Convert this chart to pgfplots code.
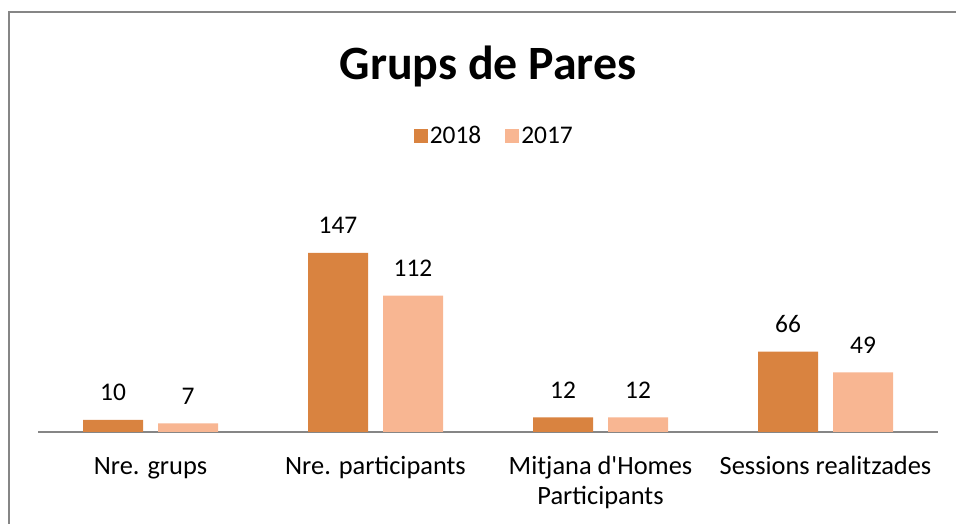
\documentclass[border=0pt]{standalone}
\usepackage{pgfplots}
\pgfplotsset{compat=1.18}
\usepackage{fontspec}
\setmainfont{Carlito}
\definecolor{darkor}{RGB}{217,131,64}
\definecolor{lightor}{RGB}{248,182,146}
\definecolor{frame}{RGB}{134,134,134}
\begin{document}
\begin{tikzpicture}[x=1bp,y=1bp]
\useasboundingbox (0,0) rectangle (956,524);
\draw[frame, line width=2bp] (9,0) -- (9,512) -- (956,512);
\node[font=\fontsize{48}{56}\selectfont\bfseries, anchor=base] at (488,444) {Grups de Pares};
\begin{axis}[
  at={(38bp,92bp)}, anchor=south west,
  scale only axis, width=900bp, height=243.6bp,
  xmin=-0.5, xmax=3.5, ymin=0, ymax=200,
  axis x line=bottom, axis y line=none,
  axis line style={-, draw=frame, line width=1.5bp},
  ytick=\empty,
  xtick={0,1,2,3},
  xticklabels={\vphantom{d}Nre. grups, \vphantom{d}Nre. participants, {Mitjana d\textquotesingle Homes\\Participants}, \vphantom{d}Sessions realitzades},
  major tick length=0pt,
  xticklabel style={font=\fontsize{26.5}{30}\selectfont, align=center, inner sep=0pt, anchor=north, yshift=-24bp},
  /pgf/number format/assume math mode=true,
  ybar=15bp, bar width=60bp,
  nodes near coords,
  every node near coord/.append style={font=\fontsize{25.5}{30}\selectfont, inner sep=0pt, anchor=south, yshift=19bp, text=black},
  legend columns=2,
  legend style={draw=none, at={(0.507,1.215)}, anchor=center, font=\fontsize{25.5}{30}\selectfont,
    /tikz/every even column/.append style={column sep=22bp}},
  legend image code/.code={\fill[#1] (-5bp,-7bp) rectangle (9bp,7bp);},
]
\addplot[fill=darkor, draw=none] coordinates {(0,10) (1,147) (2,12) (3,66)};
\addplot[fill=lightor, draw=none] coordinates {(0,7) (1,112) (2,12) (3,49)};
\legend{2018,2017}
\end{axis}
\end{tikzpicture}
\end{document}
